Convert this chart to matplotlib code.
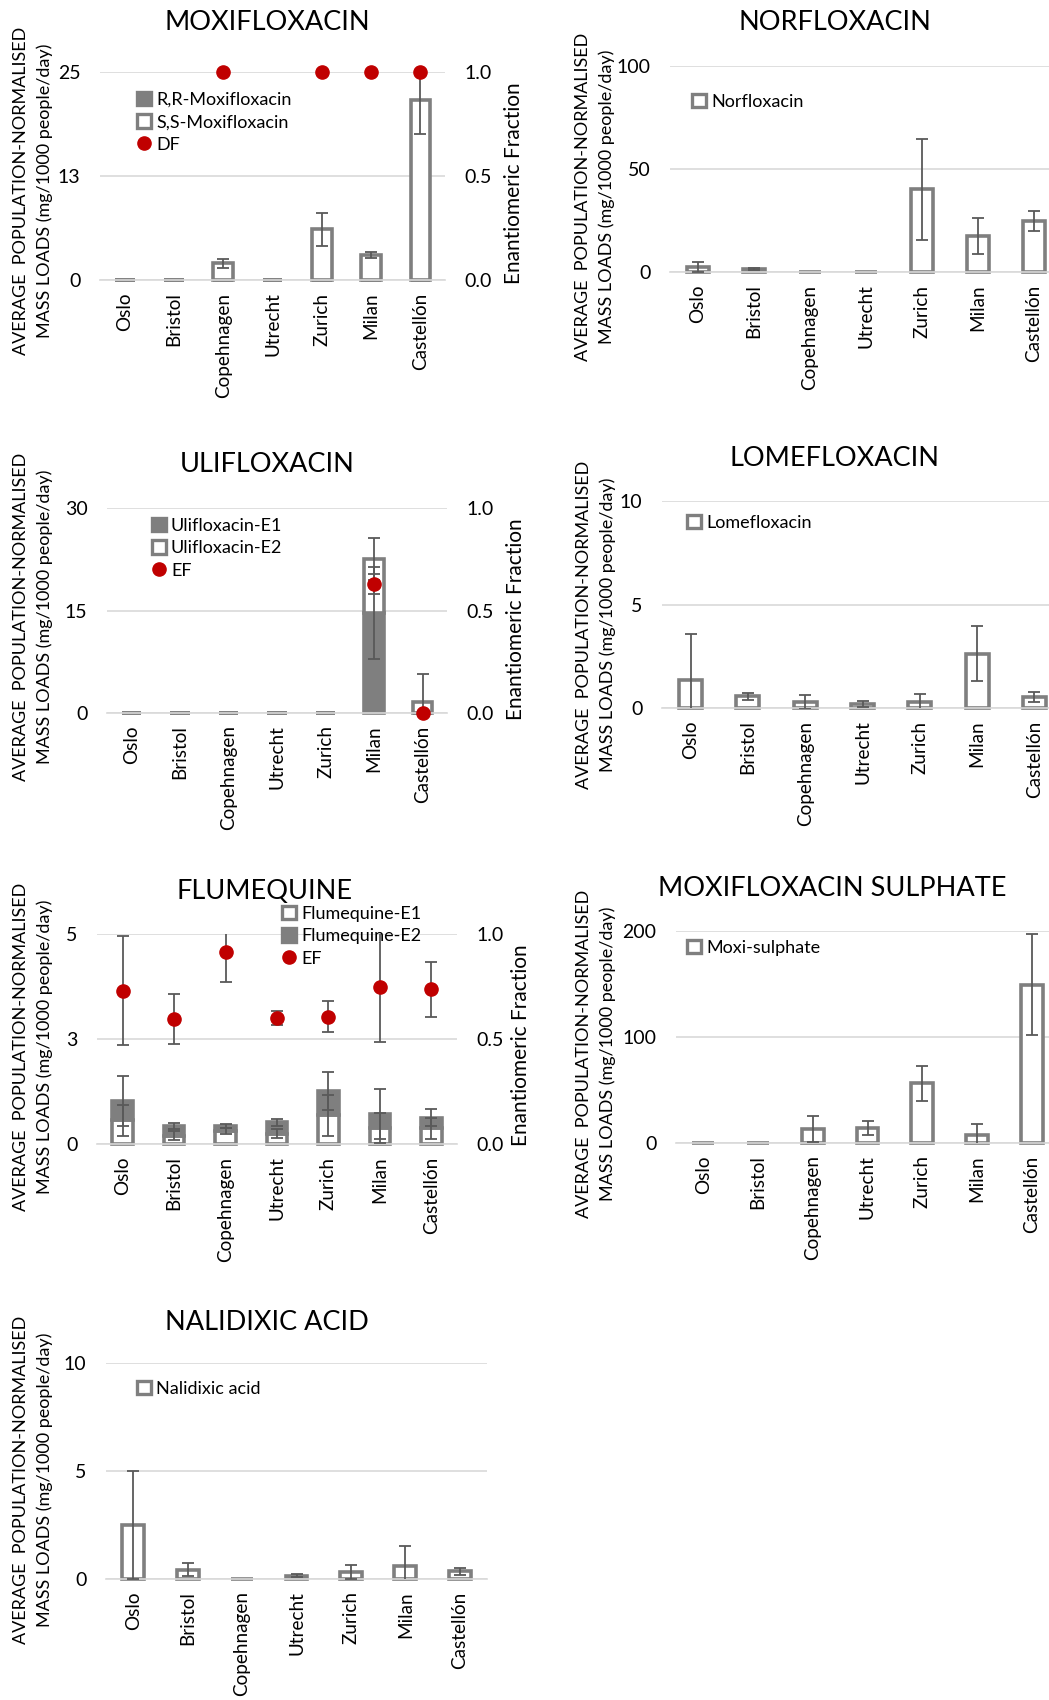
import numpy as np
import matplotlib
matplotlib.use("Agg")
import matplotlib.pyplot as plt
from matplotlib.patches import Patch
from matplotlib.lines import Line2D
from matplotlib.ticker import FuncFormatter

plt.rcParams['font.family'] = ['Lato', 'DejaVu Sans']

# ---- data ----
cities = ["Oslo", "Bristol", "Copehnagen", "Utrecht", "Zurich", "Milan", "Castellón"]

moxi_rr = [0, 0, 0, 0, 0, 0, 0]
moxi_rr_err = [0, 0, 0, 0, 0, 0, 0]
moxi_ss = [0, 0, 2.0, 0, 6.1, 3.0, 21.6]
moxi_ss_err = [0, 0, 0.5, 0, 2.0, 0.4, 4.0]
moxi_df = [np.nan, np.nan, 1.0, np.nan, 1.0, 1.0, 1.0]
moxi_df_err = [0, 0, 0, 0, 0, 0, 0]

norflox = [2.4, 1.5, 0, 0, 40.1, 17.5, 24.6]
norflox_err = [2.5, 0.6, 0, 0, 24.4, 8.7, 4.8]

uli_e1 = [0, 0, 0, 0, 0, 14.6, 0]
uli_e1_err = [0, 0, 0, 0, 0, 6.7, 0]
uli_e2 = [0, 0, 0, 0, 0, 7.9, 1.6]
uli_e2_err = [0, 0, 0, 0, 0, 3.1, 4.1]
uli_ef = [np.nan, np.nan, np.nan, np.nan, np.nan, 0.63, 0.0]
uli_ef_err = [0, 0, 0, 0, 0, 0.05, 0]

lomeflox = [1.37, 0.56, 0.29, 0.18, 0.29, 2.62, 0.53]
lomeflox_err = [2.2, 0.15, 0.32, 0.15, 0.4, 1.33, 0.25]

flume_e1 = [0.57, 0.20, 0.30, 0.25, 0.68, 0.38, 0.38]
flume_e1_err = [0.37, 0.10, 0.07, 0.10, 0.49, 0.36, 0.25]
flume_e2 = [0.45, 0.23, 0.13, 0.27, 0.59, 0.33, 0.25]
flume_e2_err = [0.60, 0.08, 0.05, 0.08, 0.45, 0.59, 0.20]
flume_ef = [0.73, 0.594, 0.916, 0.60, 0.607, 0.746, 0.737]
flume_ef_err = [0.26, 0.12, 0.145, 0.035, 0.075, 0.26, 0.13]

moxi_sulph = [0, 0, 13.2, 14.1, 56.5, 7.5, 149.1]
moxi_sulph_err = [0, 0, 12.0, 6.3, 16.5, 10.7, 47.6]

nalidixic = [2.52, 0.43, 0, 0.15, 0.31, 0.62, 0.35]
nalidixic_err = [2.5, 0.31, 0, 0.07, 0.32, 0.92, 0.16]

# ---- style ----
W, H = 1049, 1700
GREY = "#7f7f7f"
ERR = "#595959"
RED = "#c00000"
GRID = "#d9d9d9"
EDGE_LW = 2.6
YLABEL = "AVERAGE  POPULATION-NORMALISED\nMASS LOADS (mg/1000 people/day)"

fig = plt.figure(figsize=(W / 100, H / 100), dpi=100)


def px_axes(l, r, t, b):
    return fig.add_axes([l / W, 1 - b / H, (r - l) / W, (b - t) / H])


def fx(x):
    return x / W


def fy(y):
    return 1 - y / H


def excel_int(v, pos):
    # excel rounds 12.5 -> 13, 2.5 -> 3
    return f"{int(np.floor(v + 0.5))}"


def draw_bars(ax, vals, errs, bottom, filled):
    x = np.arange(len(vals))
    vals = np.asarray(vals, float)
    errs = np.asarray(errs, float)
    ax.bar(x, vals, width=0.40, bottom=bottom, color=GREY if filled else "white",
           edgecolor=GREY, linewidth=EDGE_LW, clip_on=False, zorder=2)
    tops = bottom + vals
    m = errs > 0
    if m.any():
        ax.errorbar(x[m], tops[m], yerr=errs[m], fmt='none', ecolor=ERR,
                    elinewidth=1.3, capsize=4, capthick=1.3, zorder=3)
    return tops


def panel(box, title, title_xy, ylab_xy, ymax, yticks, series, legend_xy,
          ef=None, ef_err=None, ef_label=None, rlab_xy=None):
    ax = px_axes(*box)
    bottom = np.zeros(len(cities))
    handles = []
    for label, vals, errs, filled in series:
        bottom = draw_bars(ax, vals, errs, bottom, filled)
        handles.append(Patch(facecolor=GREY if filled else "white", edgecolor=GREY,
                             linewidth=2.4, label=label))
    ax.set_xlim(-0.5, len(cities) - 0.5)
    ax.set_ylim(0, ymax)
    ax.set_yticks(yticks)
    ax.yaxis.set_major_formatter(FuncFormatter(excel_int))
    ax.set_xticks(np.arange(len(cities)), cities, rotation=90)
    ax.tick_params(axis='x', length=0, pad=9, labelsize=13.6)
    ax.tick_params(axis='y', length=0, pad=14, labelsize=14)
    ax.yaxis.grid(True, color=GRID, lw=1.2)
    ax.set_axisbelow(True)
    for s in ["top", "right", "left"]:
        ax.spines[s].set_visible(False)
    ax.spines["bottom"].set_color(GRID)
    ax.spines["bottom"].set_linewidth(1.2)

    if ef is not None:
        ax2 = ax.twinx()
        x = np.arange(len(cities))
        ef = np.asarray(ef, float)
        ef_err = np.asarray(ef_err, float)
        m = ef_err > 0
        if m.any():
            ax2.errorbar(x[m], ef[m], yerr=ef_err[m], fmt='none', ecolor=ERR,
                         elinewidth=1.3, capsize=4, capthick=1.3, zorder=3)
        ax2.plot(x, ef, 'o', color=RED, markersize=9.5, clip_on=False, zorder=4)
        ax2.set_ylim(0, 1)
        ax2.set_yticks([0, 0.5, 1.0])
        ax2.yaxis.set_major_formatter(FuncFormatter(lambda v, p: f"{v:.1f}"))
        ax2.tick_params(axis='y', length=0, pad=14, labelsize=14)
        for s in ax2.spines.values():
            s.set_visible(False)
        handles.append(Line2D([], [], marker='o', color=RED, linestyle='none',
                              markersize=9.5, label=ef_label))
        fig.text(fx(rlab_xy[0]), fy(rlab_xy[1]), "Enantiomeric Fraction", rotation=90,
                 ha='center', va='center', fontsize=15)

    ax.legend(handles=handles, loc='upper left',
              bbox_to_anchor=(fx(legend_xy[0]), fy(legend_xy[1])),
              bbox_transform=fig.transFigure, frameon=False, fontsize=13,
              handlelength=0.75, handleheight=0.75, handletextpad=0.3,
              labelspacing=0.35, borderpad=0, borderaxespad=0)

    fig.text(fx(title_xy[0]), fy(title_xy[1]), title, ha='center', va='center',
             fontsize=19.5)
    fig.text(fx(ylab_xy[0]), fy(ylab_xy[1]), YLABEL, rotation=90, ha='center',
             va='center', multialignment='center', fontsize=13, linespacing=1.5)
    return ax


panel((100, 445, 72, 280), "MOXIFLOXACIN", (267, 23), (33, 191), 25, [0, 12.5, 25],
      [("R,R-Moxifloxacin", moxi_rr, moxi_rr_err, True),
       ("S,S-Moxifloxacin", moxi_ss, moxi_ss_err, False)],
      (137, 92), ef=moxi_df, ef_err=moxi_df_err, ef_label="DF", rlab_xy=(514, 183))

panel((670, 1062, 66, 272), "NORFLOXACIN", (835, 23), (595, 197), 100, [0, 50, 100],
      [("Norfloxacin", norflox, norflox_err, False)], (692, 94))

panel((107, 447, 508, 713), "ULIFLOXACIN", (267, 465), (33, 617), 30, [0, 15, 30],
      [("Ulifloxacin-E1", uli_e1, uli_e1_err, True),
       ("Ulifloxacin-E2", uli_e2, uli_e2_err, False)],
      (152, 518), ef=uli_ef, ef_err=uli_ef_err, ef_label="EF", rlab_xy=(516, 619))

panel((662, 1063, 501, 708), "LOMEFLOXACIN", (835, 458), (596, 625), 10, [0, 5, 10],
      [("Lomefloxacin", lomeflox, lomeflox_err, False)], (687, 515))

panel((97, 457, 934, 1144), "FLUMEQUINE", (265, 892), (33, 1047), 5, [0, 2.5, 5],
      [("Flumequine-E1", flume_e1, flume_e1_err, False),
       ("Flumequine-E2", flume_e2, flume_e2_err, True)],
      (282, 906), ef=flume_ef, ef_err=flume_ef_err, ef_label="EF", rlab_xy=(521, 1045))

panel((676, 1059, 931, 1143), "MOXIFLOXACIN SULPHATE", (832, 888), (596, 1054), 200,
      [0, 100, 200], [("Moxi-sulphate", moxi_sulph, moxi_sulph_err, False)], (687, 940))

panel((106, 487, 1363, 1579), "NALIDIXIC ACID", (267, 1322), (33, 1480), 10, [0, 5, 10],
      [("Nalidixic acid", nalidixic, nalidixic_err, False)], (137, 1381))

fig.savefig("out.png", dpi=100)
